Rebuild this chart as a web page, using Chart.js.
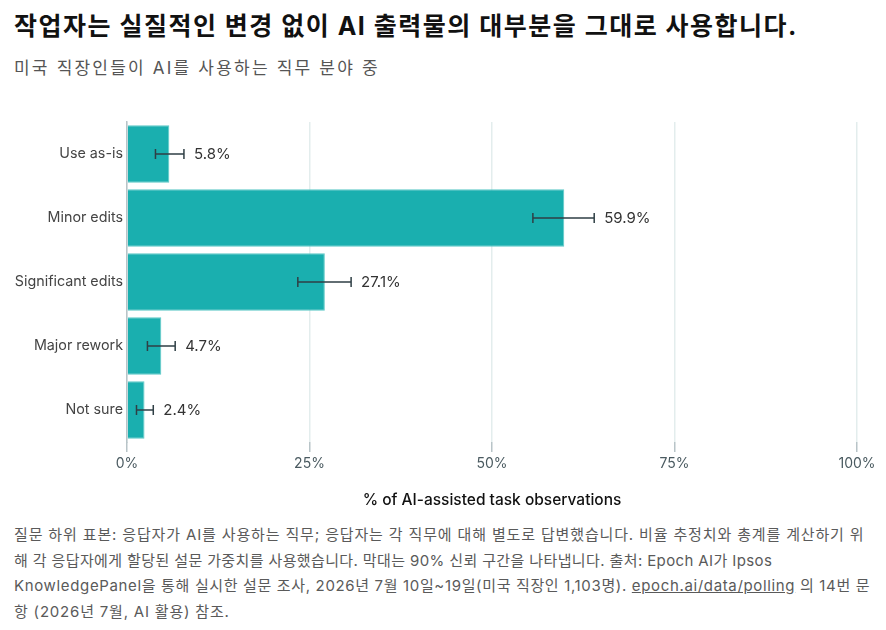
<!DOCTYPE html>
<html>
<head>
<meta charset="utf-8">
<script src="https://cdn.jsdelivr.net/npm/chart.js@4.4.1/dist/chart.umd.min.js"></script>
<style>
  body { margin: 0; background: #fff; font-family: Inter, "Noto Sans CJK KR", sans-serif; }
  #wrap { position: relative; width: 886px; height: 630px; overflow: hidden; }
  #title { position: absolute; left: 14px; top: 6px; font-size: 25px; font-weight: 700; color: #111; white-space: nowrap; letter-spacing: 1.5px; }
  #sub { position: absolute; left: 14px; top: 54px; font-size: 17px; color: #555; white-space: nowrap; letter-spacing: 2.2px; }
  #box { position: absolute; left: 0; top: 100px; width: 886px; height: 410px; }
  #foot { position: absolute; left: 14px; top: 522px; font-size: 15px; line-height: 25.5px; color: #5a5a5a; white-space: nowrap; }
  #foot div { height: 25.5px; }
  #foot a { color: #5a5a5a; text-decoration: underline; }
</style>
</head>
<body>
<div id="wrap">
  <div id="title">작업자는 실질적인 변경 없이 AI 출력물의 대부분을 그대로 사용합니다.</div>
  <div id="sub">미국 직장인들이 AI를 사용하는 직무 분야 중</div>
  <div id="box"><canvas id="myChart"></canvas></div>
  <div id="foot">
    <div style="letter-spacing:0.85px">질문 하위 표본: 응답자가 AI를 사용하는 직무; 응답자는 각 직무에 대해 별도로 답변했습니다. 비율 추정치와 총계를 계산하기 위</div>
    <div style="letter-spacing:0.38px">해 각 응답자에게 할당된 설문 가중치를 사용했습니다. 막대는 90% 신뢰 구간을 나타냅니다. 출처: Epoch AI가 Ipsos</div>
    <div style="letter-spacing:0.65px">KnowledgePanel을 통해 실시한 설문 조사, 2026년 7월 10일~19일(미국 직장인 1,103명). <a>epoch.ai/data/polling</a> 의 14번 문</div>
    <div style="letter-spacing:0.8px">항 (2026년 7월, AI 활용) 참조.</div>
  </div>
</div>
<script>
// DATOS
const categorias = ["Use as-is", "Minor edits", "Significant edits", "Major rework", "Not sure"];
const valores = [5.8, 59.9, 27.1, 4.7, 2.4];
const ciBajo = [3.9, 55.6, 23.4, 2.8, 1.3];
const ciAlto = [7.8, 64.0, 30.7, 6.6, 3.6];
const ticksX = [0, 25, 50, 75, 100];

const FONT = "Inter, 'Noto Sans CJK KR', sans-serif";

// barras de error + etiquetas
const errorBars = {
  id: "errorBars",
  afterDatasetsDraw(chart) {
    const ctx = chart.ctx;
    const x = chart.scales.x;
    const meta = chart.getDatasetMeta(0);
    ctx.save();
    ctx.strokeStyle = "#2f3f45";
    ctx.lineWidth = 1.5;
    meta.data.forEach((bar, i) => {
      const y = bar.y;
      const x1 = x.getPixelForValue(ciBajo[i]);
      const x2 = x.getPixelForValue(ciAlto[i]);
      ctx.beginPath();
      ctx.moveTo(x1, y); ctx.lineTo(x2, y);
      ctx.moveTo(x1, y - 5); ctx.lineTo(x1, y + 5);
      ctx.moveTo(x2, y - 5); ctx.lineTo(x2, y + 5);
      ctx.stroke();
      ctx.fillStyle = "#333";
      ctx.font = "15px " + FONT;
      ctx.textAlign = "left";
      ctx.textBaseline = "middle";
      ctx.fillText(valores[i].toFixed(1) + "%", x2 + 10, y);
    });
    ctx.restore();
  },
};

new Chart(document.getElementById("myChart"), {
  type: "bar",
  data: {
    labels: categorias,
    datasets: [
      {
        data: valores,
        backgroundColor: "#1aafaf",
        borderColor: "#5cc9c6",
        borderWidth: 1,
        barPercentage: 0.9,
        categoryPercentage: 1,
      },
    ],
  },
  options: {
    indexAxis: "y",
    responsive: true,
    maintainAspectRatio: false,
    animation: false,
    layout: { padding: { top: 22, right: 29, bottom: 0, left: 0 } },
    plugins: {
      legend: { display: false },
      tooltip: { enabled: false },
    },
    scales: {
      x: {
        min: 0,
        max: 100,
        afterBuildTicks: (s) => { s.ticks = ticksX.map((v) => ({ value: v })); },
        ticks: {
          callback: (v) => v + "%",
          color: "#4a5a60",
          font: { family: FONT, size: 14 },
          padding: 3,
        },
        grid: { color: "#e3eded", lineWidth: 1.5, tickLength: 10, tickColor: "#b8c4c8" },
        border: { display: false },
        title: {
          display: true,
          text: "% of AI-assisted task observations",
          color: "#111",
          font: { family: FONT, size: 15.5, weight: "500" },
          padding: { top: 0, bottom: 0 },
        },
        afterFit: (s) => { s.height = 68; },
      },
      y: {
        ticks: { color: "#444", font: { family: FONT, size: 14.3 }, padding: 4 },
        grid: { display: false, drawTicks: false },
        border: { display: true, color: "#b8c4c8", width: 1.5 },
        afterFit: (s) => { s.width = 127; },
      },
    },
  },
  plugins: [errorBars],
});
</script>
</body>
</html>
